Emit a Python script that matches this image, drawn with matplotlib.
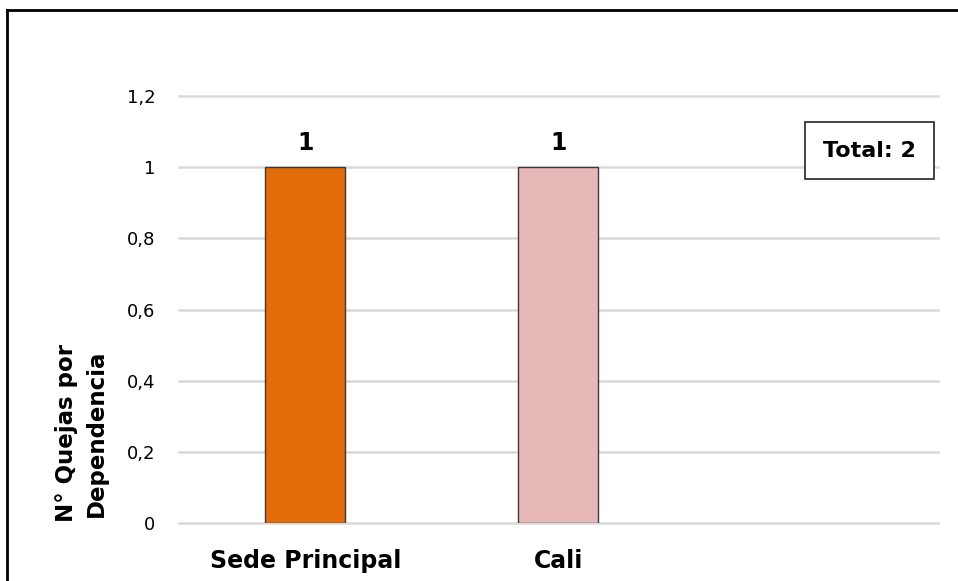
import matplotlib
matplotlib.use("Agg")
import matplotlib.pyplot as plt
from matplotlib.lines import Line2D

categorias = ["Sede Principal", "Cali", ""]
quejas = [1, 1, 0]
colores = ["#E36C0A", "#E6B8B7", "#FFFFFF"]
yticks = [0, 0.2, 0.4, 0.6, 0.8, 1.0, 1.2]
total = sum(quejas)

plt.rcParams["font.family"] = "DejaVu Sans"

fig = plt.figure(figsize=(9.58, 5.81), dpi=100)
ax = fig.add_axes([0.1868, 0.0998, 0.7923, 0.7349])

x = range(len(categorias))
bars = ax.bar(x[:2], quejas[:2], width=0.316, color=colores[:2],
              edgecolor="#3a3a3a", linewidth=1, zorder=3)
for b, v in zip(bars, quejas[:2]):
    ax.text(b.get_x() + b.get_width() / 2, v + 0.035, str(v),
            ha="center", va="bottom", fontsize=17, fontweight="bold")

ax.set_xlim(-0.5, 2.5)
ax.set_ylim(0, 1.2)
ax.set_xticks(list(x))
ax.set_xticklabels(categorias, fontsize=17, fontweight="bold")
ax.set_yticks(yticks)
ax.set_yticklabels([("%g" % t).replace(".", ",") for t in yticks], fontsize=13)
ax.tick_params(axis="both", length=0)
ax.tick_params(axis="y", pad=17)
ax.tick_params(axis="x", pad=19)
for s in ax.spines.values():
    s.set_visible(False)
ax.yaxis.grid(True, color="#D9D9D9", linewidth=1.8, zorder=0)
ax.set_axisbelow(True)
# que las lineas de 0 y 1,2 no queden cortadas por el borde del eje
for gl in ax.get_ygridlines():
    gl.set_clip_on(False)

ax.set_ylabel("N° Quejas por\nDependencia", fontsize=16.5, fontweight="bold",
              linespacing=1.35)
ax.yaxis.set_label_coords(-0.094, 0.21)

ax.text(0.9098, 0.872, "Total: %d" % total, transform=ax.transAxes,
        ha="center", va="center", fontsize=16, fontweight="bold",
        bbox=dict(boxstyle="square,pad=0.82", facecolor="white",
                  edgecolor="#222222", linewidth=1.2))

# marco exterior
fig.add_artist(Line2D([7 / 958, 7 / 958], [0, 1 - 10 / 581],
                      transform=fig.transFigure, color="black", linewidth=2))
fig.add_artist(Line2D([7 / 958, 1], [1 - 10 / 581, 1 - 10 / 581],
                      transform=fig.transFigure, color="black", linewidth=2))

fig.savefig("out.png", dpi=100)
